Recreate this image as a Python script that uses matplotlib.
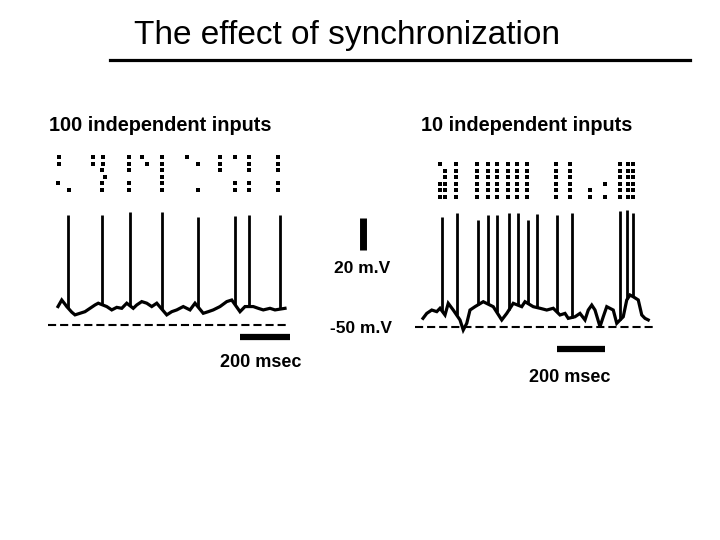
import numpy as np
import matplotlib
matplotlib.use("Agg")
import matplotlib.pyplot as plt
from matplotlib.lines import Line2D

plt.rcParams['font.family'] = ['Liberation Sans', 'DejaVu Sans']

W, H = 720, 540

# ---- left panel: 100 independent inputs ----
# subthreshold membrane potential (ms, mV)
left_t = [0, 15, 28, 35, 55, 68, 88, 108, 128, 148, 161, 195, 215, 235, 255, 275,
          301, 315, 335, 355, 375, 395, 435, 455, 475, 501, 528, 548, 581, 601,
          621, 648, 675, 695, 728, 748, 781, 801, 821, 848, 868, 908]
left_v = [-38.5, -34.4, -37.0, -38.5, -42.0, -43.7, -42.7, -41.7, -39.6, -37.5, -36.4,
          -38.5, -40.6, -39.0, -39.6, -36.4, -39.6, -37.5, -35.4, -36.4, -38.5, -36.4,
          -43.7, -41.7, -40.6, -38.5, -40.6, -36.4, -42.7, -41.7, -40.6, -38.5, -35.4,
          -34.4, -41.7, -38.5, -38.5, -39.6, -40.6, -39.6, -40.6, -39.6]
left_spike_t = [41, 176, 288, 416, 561, 708, 765, 888]
left_spike_peak = [18.8, 18.8, 20.6, 20.6, 17.5, 18.0, 18.8, 18.8]
# input raster: spike time (ms) and input row
left_in_t = [4, 4, 0, 44, 140, 140, 180, 180, 176, 188, 176, 176,
             284, 284, 284, 284, 284, 336, 356, 416, 416, 416, 416, 416, 416,
             516, 560, 560, 648, 648, 648, 708, 708, 708,
             764, 764, 764, 764, 764, 880, 880, 880, 880, 880]
left_in_row = [0, 1, 4, 5, 0, 1, 0, 1, 2, 3, 4, 5,
               0, 1, 2, 4, 5, 0, 1, 0, 1, 2, 3, 4, 5,
               0, 1, 5, 0, 1, 2, 0, 4, 5,
               0, 1, 2, 4, 5, 0, 1, 2, 4, 5]

# ---- right panel: 10 independent inputs ----
right_t = [0, 15, 35, 55, 68, 88, 101, 121, 148, 161, 175, 188, 208, 241, 281, 315,
           335, 361, 395, 408, 441, 468, 495, 521, 548, 568, 581, 608, 628, 648, 661,
           675, 688, 708, 721, 735, 761, 775, 801, 815, 828, 841, 861, 875, 888, 901]
right_v = [-44.6, -41.5, -39.4, -40.4, -38.3, -42.5, -35.2, -39.4, -45.6, -51.9, -47.7,
           -39.4, -37.3, -34.2, -37.3, -45.6, -41.5, -35.2, -37.3, -34.2, -37.3, -38.3,
           -39.4, -38.3, -42.5, -41.5, -44.6, -43.6, -41.5, -45.6, -39.4, -36.3, -39.4,
           -49.8, -43.6, -37.3, -39.4, -47.7, -43.6, -33.1, -30.0, -31.1, -33.1, -42.5,
           -44.6, -45.6]
right_spike_t = [75, 135, 221, 261, 295, 345, 381, 421, 455, 535, 595, 788, 817, 841]
right_spike_peak = [18.9, 21.4, 16.9, 20.0, 20.0, 21.0, 21.0, 16.9, 20.6, 20.0, 21.0,
                    22.5, 23.1, 21.0]
right_full_cols = [132, 216, 260, 296, 340, 376, 416, 532, 588, 788, 820, 840]
right_in_t = [68, 68, 68, 68, 88, 88, 88, 88, 88, 668, 668, 728, 728]
right_in_row = [0, 3, 4, 5, 1, 2, 3, 4, 5, 4, 5, 3, 5]
for c in right_full_cols:
    for r in range(6):
        right_in_t.append(c)
        right_in_row.append(r)

fig = plt.figure(figsize=(7.2, 5.4), dpi=100)


def px_axes(x0, x1, y0, y1, xlim, ylim):
    ax = fig.add_axes([x0 / W, 1 - y1 / H, (x1 - x0) / W, (y1 - y0) / H])
    ax.set_xlim(*xlim)
    ax.set_ylim(*ylim)
    ax.axis('off')
    return ax


def draw_trace(ax, t, v, st, sp):
    t = np.array(t)
    v = np.array(v)
    ax.plot(t, v, color='black', lw=2.3, solid_joinstyle='miter')
    base = np.interp(st, t, v)
    ax.vlines(st, base, sp, color='black', lw=2.0)


# left trace (0.25 px per ms, 1.6 px per mV)
axL = px_axes(40, 300, 200, 380, (-72, 968), (-84.4, 28.1))
draw_trace(axL, left_t, left_v, left_spike_t, left_spike_peak)
axL.plot([-40, 920], [-50, -50], color='black', lw=1.5, dashes=(3.9, 1.9))
axL.plot([728, 928], [-57.5, -57.5], color='black', lw=4.5, solid_capstyle='butt')
axL.text(812, -76.2, '200 msec', ha='center', va='baseline', fontsize=13,
         fontweight='bold')

axLr = px_axes(40, 300, 150, 200, (-72, 968), (6.52, -1.06))
axLr.plot(left_in_t, left_in_row, 's', color='black', ms=3.2, mew=0)

# right trace
axR = px_axes(400, 670, 200, 390, (-92, 988), (-89.4, 29.4))
draw_trace(axR, right_t, right_v, right_spike_t, right_spike_peak)
axR.plot([-32, 928], [-50, -50], color='black', lw=1.5, dashes=(3.9, 1.9))
axR.plot([536, 728], [-63.75, -63.75], color='black', lw=4.5, solid_capstyle='butt')
axR.text(588, -84.4, '200 msec', ha='center', va='baseline', fontsize=13,
         fontweight='bold')

axRr = px_axes(400, 670, 150, 210, (-92, 988), (6.97, -2.12))
axRr.plot(right_in_t, right_in_row, 's', color='black', ms=3.2, mew=0)

# vertical 20 mV scale bar
axS = px_axes(350, 375, 210, 260, (-1, 1), (-6.25, 25))
axS.plot([0, 0], [0, 20], color='black', lw=5, solid_capstyle='butt')

# texts
fig.text(347 / W, 1 - 44 / H, 'The effect of synchronization', ha='center',
         va='baseline', fontsize=24)
fig.add_artist(Line2D([110 / W, 690 / W], [1 - 60 / H, 1 - 60 / H], color='black',
                      lw=2.3, transform=fig.transFigure))
fig.text(160 / W, 1 - 131 / H, '100 independent inputs', ha='center', va='baseline',
         fontsize=14.3, fontweight='bold')
fig.text(527 / W, 1 - 131 / H, '10 independent inputs', ha='center', va='baseline',
         fontsize=14.3, fontweight='bold')
fig.text(362 / W, 1 - 273 / H, '20 m.V', ha='center', va='baseline', fontsize=12.5,
         fontweight='bold')
fig.text(361 / W, 1 - 333 / H, '-50 m.V', ha='center', va='baseline', fontsize=12.5,
         fontweight='bold')

fig.savefig('out.png', dpi=100)
